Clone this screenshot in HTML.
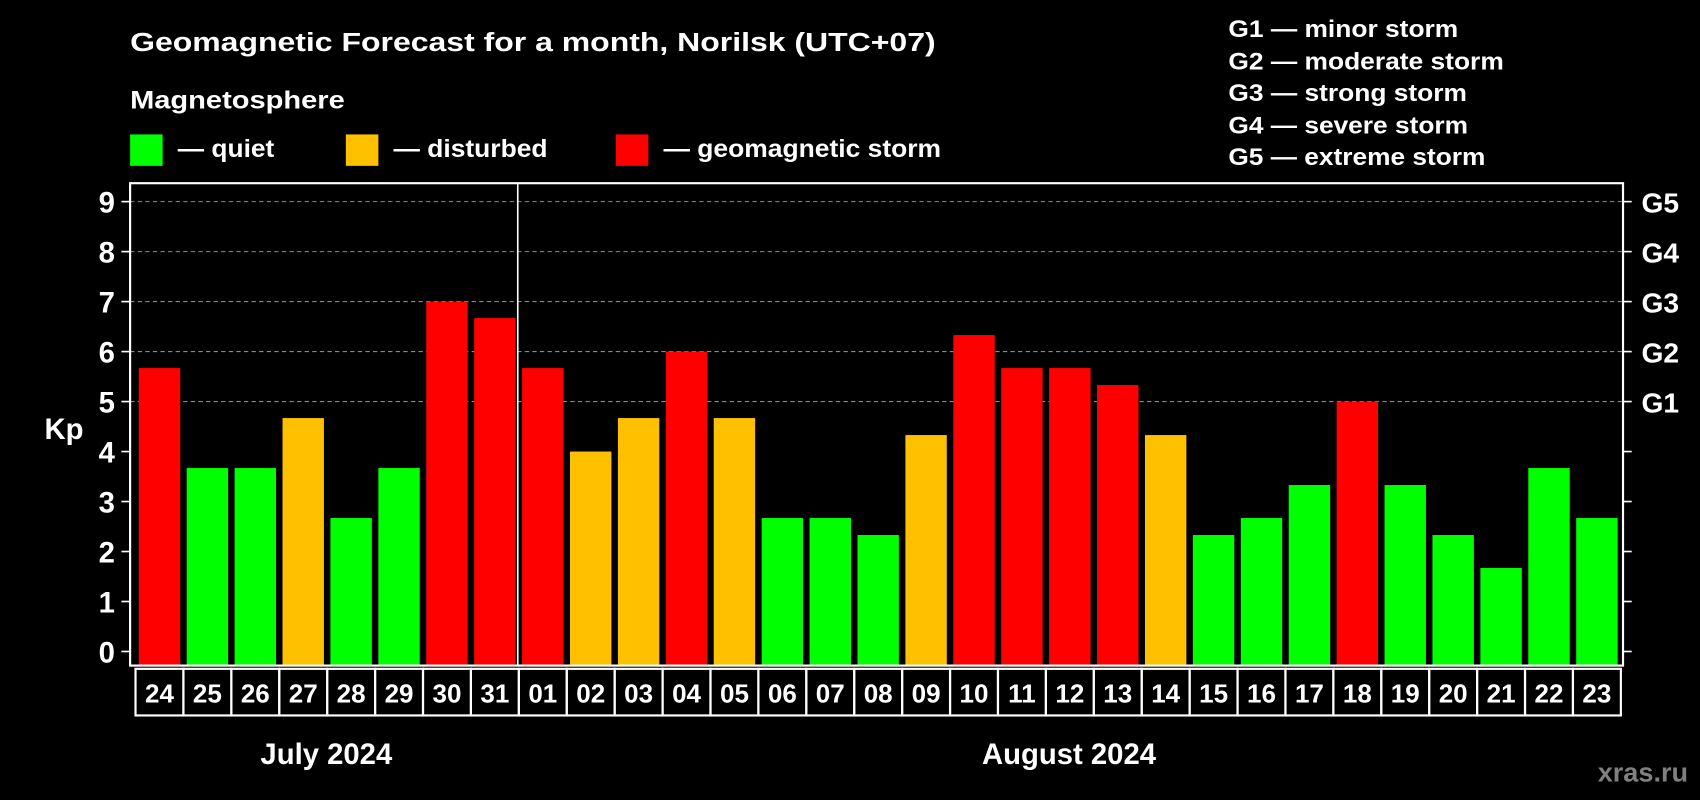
<!DOCTYPE html>
<html><head><meta charset="utf-8"><style>
html,body{margin:0;padding:0;background:#000;width:1700px;height:800px;overflow:hidden}
svg{display:block}
text{font-family:"Liberation Sans",Arial,sans-serif;font-weight:bold;fill:#fff}
</style></head><body>
<svg id="chart" width="1700" height="800" viewBox="0 0 1568 738" preserveAspectRatio="none" xmlns="http://www.w3.org/2000/svg">
<rect x="0" y="0" width="1568" height="738" fill="#000"/>
<text x="120" y="47" font-size="24" textLength="743" lengthAdjust="spacingAndGlyphs">Geomagnetic Forecast for a month, Norilsk (UTC+07)</text>
<text x="120" y="100" font-size="23" textLength="198" lengthAdjust="spacingAndGlyphs">Magnetosphere</text>
<g><rect x="120" y="124" width="30" height="29" fill="#00FF00"/><text x="164" y="145" font-size="23" textLength="89" lengthAdjust="spacingAndGlyphs">— quiet</text></g>
<g><rect x="319" y="124" width="30" height="29" fill="#FFC000"/><text x="363" y="145" font-size="23" textLength="142" lengthAdjust="spacingAndGlyphs">— disturbed</text></g>
<g><rect x="568" y="124" width="30" height="29" fill="#FF0000"/><text x="612" y="145" font-size="23" textLength="256" lengthAdjust="spacingAndGlyphs">— geomagnetic storm</text></g>
<g font-size="22">
<text x="1133" y="34" textLength="212" lengthAdjust="spacingAndGlyphs">G1 — minor storm</text>
<text x="1133" y="64" textLength="254" lengthAdjust="spacingAndGlyphs">G2 — moderate storm</text>
<text x="1133" y="93" textLength="220" lengthAdjust="spacingAndGlyphs">G3 — strong storm</text>
<text x="1133" y="123" textLength="221" lengthAdjust="spacingAndGlyphs">G4 — severe storm</text>
<text x="1133" y="152" textLength="237" lengthAdjust="spacingAndGlyphs">G5 — extreme storm</text>
</g>
<text x="59" y="405" font-size="27" text-anchor="middle">Kp</text>
<g id="grid"></g>
<g id="bars"></g>
<g id="axes"></g>
<text x="301" y="705" font-size="27" text-anchor="middle">July 2024</text>
<text x="986" y="705" font-size="27" text-anchor="middle">August 2024</text>
<text x="1557" y="721" font-size="25" text-anchor="end" style="fill:#808080">xras.ru</text>
</svg>
<script>
const days = ["24","25","26","27","28","29","30","31","01","02","03","04","05","06","07","08","09","10","11","12","13","14","15","16","17","18","19","20","21","22","23"];
const kpValues = [5.67,3.67,3.67,4.67,2.67,3.67,7,6.67,5.67,4,4.67,6,4.67,2.67,2.67,2.33,4.33,6.33,5.67,5.67,5.33,4.33,2.33,2.67,3.33,5,3.33,2.33,1.67,3.67,2.67];
const yTicks = [0,1,2,3,4,5,6,7,8,9];
const gLabels = ["G1","G2","G3","G4","G5"];
const gLevels = [5,6,7,8,9];
const monthSplit = 8;

const NS = "http://www.w3.org/2000/svg";
const L = 120, R = 1497, T = 169, B = 614;
const cellL = 125, cellW = (1495 - 125) / days.length;
function y(v){ return 601 - v * (601 - 186) / 9; }
function x(i){ return cellL + i * cellW; }
function mk(tag, attrs, parent){ const e = document.createElementNS(NS, tag); for (const k in attrs) e.setAttribute(k, attrs[k]); parent.appendChild(e); return e; }
const grid = document.getElementById("grid"), bars = document.getElementById("bars"), axes = document.getElementById("axes");

gLevels.forEach(v => {
  const ln = mk("line", {x1:L, x2:R, y1:y(v), y2:y(v), stroke:"#888", "stroke-width":1, "stroke-dasharray":"4,3"}, grid);
  
  
});
yTicks.forEach(v => {
  mk("line", {x1:L-8, x2:L, y1:y(v), y2:y(v), stroke:"#fff", "stroke-width":1.5}, axes);
  mk("line", {x1:R, x2:R+8, y1:y(v), y2:y(v), stroke:"#fff", "stroke-width":1.5}, axes);
  const t = mk("text", {x:106, y:y(v)+10, "font-size":27, "text-anchor":"end"}, axes);
  t.textContent = v;
  
  
});
gLabels.forEach((g, i) => {
  const t = mk("text", {x:1514, y:y(gLevels[i])+10, "font-size":26}, axes);
  t.textContent = g;
  
  
});
kpValues.forEach((v, i) => {
  const col = v >= 5 ? "#FF0000" : (v >= 4 ? "#FFC000" : "#00FF00");
  const r = mk("rect", {x:x(i)+3, y:y(v), width:cellW-6, height:B - y(v), fill:col}, bars);
  
  
  const c = mk("rect", {x:x(i), y:617, width:cellW, height:43, fill:"none", stroke:"#fff", "stroke-width":2}, axes);
  
  
  const t = mk("text", {x:x(i)+cellW/2, y:648, "font-size":24, "text-anchor":"middle"}, axes);
  t.textContent = days[i];
  
  
});
const frame = mk("rect", {x:L, y:T, width:R-L, height:B-T, fill:"none", stroke:"#fff", "stroke-width":2}, axes);


const sep = mk("line", {x1:x(monthSplit)-1, x2:x(monthSplit)-1, y1:T, y2:B, stroke:"#fff", "stroke-width":1.5}, axes);


</script>
</body></html>
